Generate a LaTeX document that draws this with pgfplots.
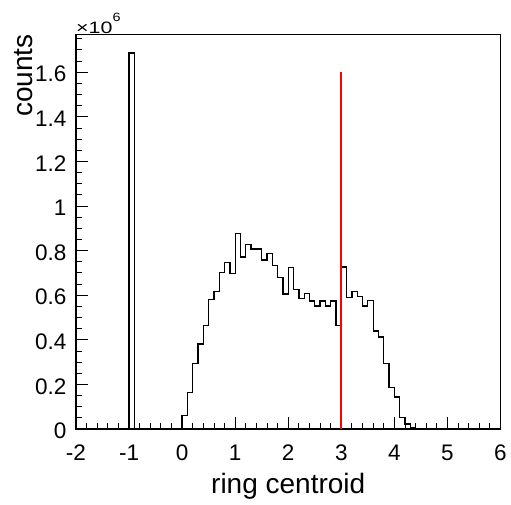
\documentclass[border=0pt]{standalone}
\usepackage{pgfplots}
\pgfplotsset{compat=1.18}
\usepackage{fontspec}
\setmainfont{Liberation Sans}
\begin{document}
\begin{tikzpicture}
\begin{axis}[
 scale only axis, width=424.5pt, height=394.7pt,
 xmin=-2, xmax=6, ymin=0, ymax=1.77,
 axis line style={line width=1.3pt},
 tick align=inside, xtick pos=left, ytick pos=left,
 xtick={-2,-1,0,1,2,3,4,5,6}, xticklabels={-2,-1,0,1,2,3,4,5,6},
 ytick={0,0.2,0.4,0.6,0.8,1,1.2,1.4,1.6}, yticklabels={0,0.2,0.4,0.6,0.8,1,1.2,1.4,1.6},
 minor x tick num=4, minor y tick num=3,
 extra y ticks={1.65,1.7,1.75}, extra y tick labels={},
 extra y tick style={major tick length=6pt},
 major tick length=12pt, minor tick length=6pt,
 tick style={black, line width=0.9pt},
 tick label style={font=\fontsize{22.5}{26}\selectfont},
 xticklabel style={yshift=-12pt},
 yticklabel style={xshift=-6pt, yshift=-2pt},
 xlabel={ring centroid}, ylabel={counts},
 label style={font=\fontsize{28}{32}\selectfont},
 xlabel style={at={(axis description cs:0.5,-0.1629)}, anchor=base, inner sep=0pt},
 ylabel style={at={(axis description cs:-0.1013,1)}, anchor=base east, inner sep=0pt},
]
\addplot[const plot mark left, black, line width=1.3pt, mark=none] coordinates {
(-2,0) (-1,1.686) (-0.9,0)
(0.0,0.062) (0.1,0.165) (0.2,0.295) (0.3,0.381) (0.4,0.463)
(0.5,0.582) (0.6,0.616) (0.7,0.703) (0.8,0.748) (0.9,0.698)
(1.0,0.878) (1.1,0.771) (1.2,0.828) (1.3,0.807) (1.4,0.807)
(1.5,0.758) (1.6,0.788) (1.7,0.732) (1.8,0.679) (1.9,0.605)
(2.0,0.723) (2.1,0.626) (2.2,0.586) (2.3,0.608) (2.4,0.574)
(2.5,0.552) (2.6,0.574) (2.7,0.552) (2.8,0.574) (2.9,0.463)
(3.0,0.726) (3.1,0.590) (3.2,0.616) (3.3,0.593) (3.4,0.552)
(3.5,0.575) (3.6,0.439) (3.7,0.413) (3.8,0.293) (3.9,0.185)
(4.0,0.144) (4.1,0.052) (4.2,0.023) (4.3,0.007) (4.4,0)
(6,0)
};
\addplot[red, line width=2pt, mark=none] coordinates {(3,0) (3,1.6)};
\end{axis}
\node[anchor=base west, inner sep=0pt] at ([yshift=1pt]current axis.north west)
 {\scalebox{1.3}[1]{\fontsize{16.5}{18}\selectfont ×10}\raisebox{12pt}{\scalebox{1.2}[1]{\fontsize{12}{13}\selectfont 6}}};
\pgfresetboundingbox
\useasboundingbox ([shift={(-76pt,-75pt)}]current axis.south west) rectangle ([shift={(10.5pt,34.3pt)}]current axis.north east);
\end{tikzpicture}
\end{document}
